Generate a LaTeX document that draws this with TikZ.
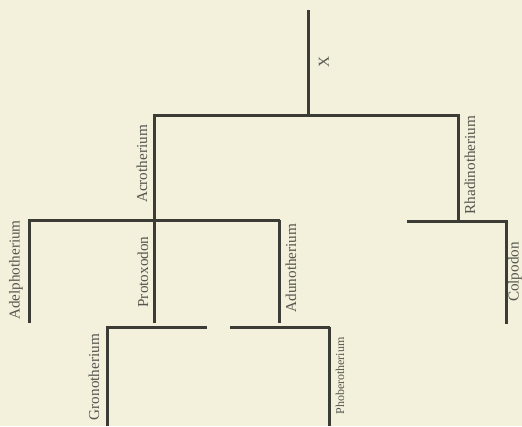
\documentclass[tikz,border=0pt]{standalone}
\usepackage{fontspec}
\setmainfont{Liberation Serif}
\usetikzlibrary{positioning,calc}
\definecolor{tlPaper}{HTML}{F3F1DC}
\definecolor{tlInk}{HTML}{3C3C37}
\definecolor{tlText}{HTML}{55554E}
\tikzset{
  tlBranch/.style={draw=tlInk, line width=3pt, line cap=butt},
  tlTaxon/.style={
    rotate=90,
    text=tlText,
    inner sep=0pt,
    font=\fontsize{15.2}{17}\selectfont
  },
  tlTaxonSmall/.style={
    tlTaxon,
    font=\fontsize{12}{13}\selectfont
  }
}

\begin{document}
\begin{tikzpicture}[x=1pt, y=-1pt]
  \fill[tlPaper] (0,0) rectangle (522,426);
  \useasboundingbox (0,0) rectangle (522,426);

  % stem and first split
  \coordinate (rootTop) at (308,10);
  \coordinate (root) at (308,115);
  \coordinate (acro) at (154,115);
  \coordinate (rhad) at (458,115);
  \coordinate (acroEnd) at (154,220);
  \coordinate (rhadEnd) at (458,221);

  % Acrotherium group
  \coordinate (adelBar) at (28,220);
  \coordinate (adunBar) at (280,220);
  \coordinate (adel) at (29,220);
  \coordinate (adelEnd) at (29,323);
  \coordinate (protoEnd) at (154,323);
  \coordinate (adun) at (279,220);
  \coordinate (adunEnd) at (279,323);

  % lower bars
  \coordinate (gronBar) at (107,327);
  \coordinate (gronBarEnd) at (207,327);
  \coordinate (gronEnd) at (107,426);
  \coordinate (phobBar) at (230,327);
  \coordinate (phob) at (329,327);
  \coordinate (phobBarEnd) at (330,327);
  \coordinate (phobEnd) at (329,426);

  % Rhadinotherium group
  \coordinate (colpBar) at (407,221);
  \coordinate (colpBarEnd) at (508,221);
  \coordinate (colp) at (506,221);
  \coordinate (colpEnd) at (506,324);

  \draw[tlBranch] (rootTop) -- (root);
  \draw[tlBranch] (acroEnd) -- (acro) -- (rhad) -- (rhadEnd);
  \draw[tlBranch] (adelEnd) -- (adel) -- (adunBar);
  \draw[tlBranch] (adelBar) -- (adel);
  \draw[tlBranch] (acroEnd) -- (protoEnd);
  \draw[tlBranch] (adun) -- (adunEnd);
  \draw[tlBranch] (gronEnd) -- (gronBar) -- (gronBarEnd);
  \draw[tlBranch] (phobBar) -- (phobBarEnd);
  \draw[tlBranch] (phob) -- (phobEnd);
  \draw[tlBranch] (colpBar) -- (colpBarEnd);
  \draw[tlBranch] (colp) -- (colpEnd);

  \node[tlTaxon] (xLabel) at (324,62) {X};
  \node[tlTaxon] (acrotherium) at (142,164) {Acrotherium};
  \node[tlTaxon] (rhadinotherium) at (470,165) {Rhadinotherium};
  \node[tlTaxon] (adelphotherium) at (16,270) {Adelphotherium};
  \node[tlTaxon] (protoxodon) at (143,272) {Protoxodon};
  \node[tlTaxon] (adunotherium) at (291,268) {Adunotherium};
  \node[tlTaxon] (colpodon) at (515,272) {Colpodon};
  \node[tlTaxon] (gronotherium) at (94,377) {Gronotherium};
  \node[tlTaxonSmall] (phoberotherium) at (340,376) {Phoberotherium};
\end{tikzpicture}
\end{document}
